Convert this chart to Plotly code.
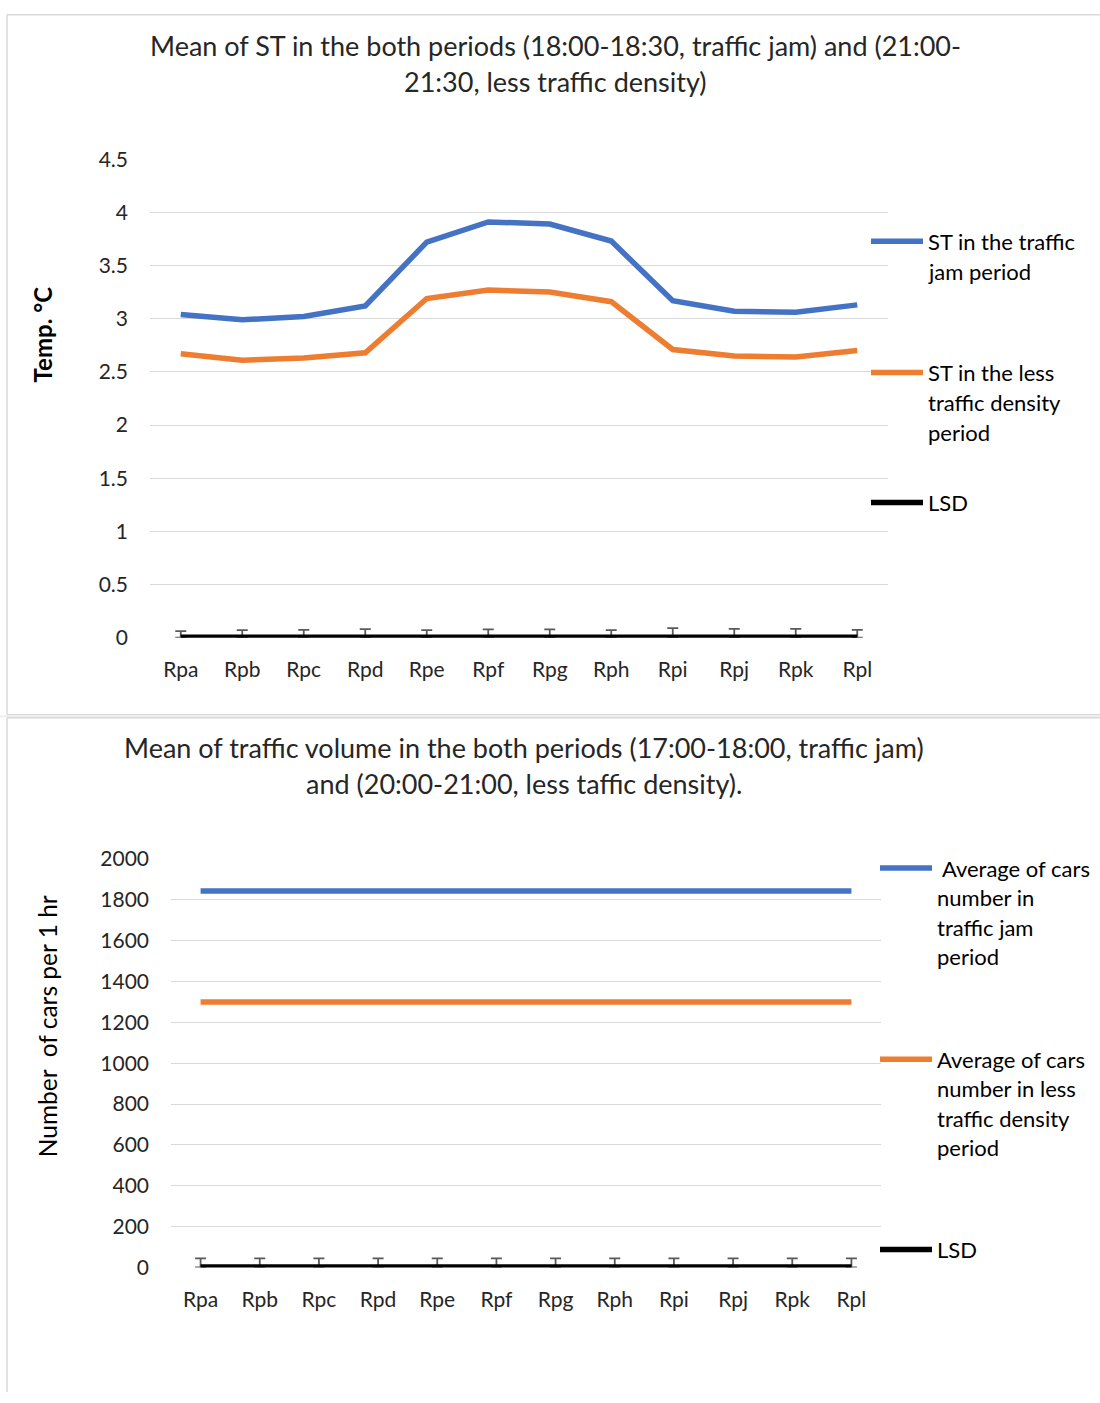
import plotly.graph_objects as go

# ---------------- data ----------------
sites = ["Rpa", "Rpb", "Rpc", "Rpd", "Rpe", "Rpf", "Rpg", "Rph", "Rpi", "Rpj", "Rpk", "Rpl"]

st_jam = [3.04, 2.99, 3.02, 3.12, 3.72, 3.91, 3.89, 3.73, 3.17, 3.07, 3.06, 3.13]
st_less = [2.67, 2.61, 2.63, 2.68, 3.19, 3.27, 3.25, 3.16, 2.71, 2.65, 2.64, 2.70]
st_lsd = [0, 0, 0, 0, 0, 0, 0, 0, 0, 0, 0, 0]
st_lsd_err = [0.062, 0.072, 0.074, 0.081, 0.072, 0.078, 0.078, 0.072, 0.09, 0.084, 0.084, 0.074]

cars_jam = [1843] * 12
cars_less = [1300] * 12
cars_lsd = [0] * 12
cars_lsd_err = [45] * 12

st_ticks = [0, 0.5, 1, 1.5, 2, 2.5, 3, 3.5, 4, 4.5]
st_ticklabels = ["0", "0.5", "1", "1.5", "2", "2.5", "3", "3.5", "4", "4.5"]
car_ticks = [0, 200, 400, 600, 800, 1000, 1200, 1400, 1600, 1800, 2000]

title1 = ["Mean of ST in the both periods (18:00-18:30, traffic jam) and (21:00-",
          "21:30, less traffic density)"]
title2 = ["Mean of traffic volume in the both periods (17:00-18:00, traffic jam)",
          "and (20:00-21:00, less taffic density)."]
legend1 = [["ST in the traffic", "jam period"],
           ["ST in the less", "traffic density", "period"],
           ["LSD"]]
legend2 = [[" Average of cars", "number in", "traffic jam", "period"],
           ["Average of cars", "number in less", "traffic density", "period"],
           ["LSD"]]

BLUE = "#4472C4"
ORANGE = "#ED7D31"
BLACK = "#000000"
GRID = "#D9D9D9"
FONT = "Lato"
TXT = "#262626"

W = 1100
H = 1403
OFF = 14       # vertical offset observed in the rendered picture
SCALE = 0.981  # vertical scale observed in the rendered picture


def px(x):
    return x / W


def py(y):
    actual = max((y - OFF) / SCALE, 0.75)
    return 1 - actual / H


fig = go.Figure()

# ---------------- top chart ----------------
for vals, col in [(st_jam, BLUE), (st_less, ORANGE)]:
    fig.add_trace(go.Scatter(x=sites, y=vals, mode="lines", line=dict(color=col, width=5.5),
                             xaxis="x", yaxis="y", showlegend=False, cliponaxis=False))
fig.add_trace(go.Scatter(x=sites, y=st_lsd, mode="lines", line=dict(color=BLACK, width=6.5),
                         error_y=dict(type="data", symmetric=False, array=st_lsd_err,
                                      arrayminus=[0] * 12, color="#595959", thickness=1.8, width=5.5),
                         xaxis="x", yaxis="y", showlegend=False, cliponaxis=False))

# ---------------- bottom chart ----------------
for vals, col in [(cars_jam, BLUE), (cars_less, ORANGE)]:
    fig.add_trace(go.Scatter(x=sites, y=vals, mode="lines", line=dict(color=col, width=5.5),
                             xaxis="x2", yaxis="y2", showlegend=False, cliponaxis=False))
fig.add_trace(go.Scatter(x=sites, y=cars_lsd, mode="lines", line=dict(color=BLACK, width=6.5),
                         error_y=dict(type="data", symmetric=False, array=cars_lsd_err,
                                      arrayminus=[0] * 12, color="#595959", thickness=1.8, width=5.5),
                         xaxis="x2", yaxis="y2", showlegend=False, cliponaxis=False))

axfont = dict(family=FONT, size=21, color=TXT)

fig.update_layout(
    width=W, height=H, autosize=False,
    margin=dict(l=0, r=0, t=0, b=0),
    paper_bgcolor="white", plot_bgcolor="white",
    font=dict(family=FONT, color=TXT),
    xaxis=dict(domain=[px(150), px(888)], anchor="y", range=[-0.5, 11.5],
               showgrid=False, showline=False, zeroline=False, ticks="",
               tickfont=axfont, ticklabelstandoff=17),
    yaxis=dict(domain=[py(637), py(159)], anchor="x", range=[0, 4.5],
               tickvals=st_ticks, ticktext=st_ticklabels,
               showgrid=True, gridcolor=GRID, gridwidth=1.3, zeroline=False, showline=False,
               ticks="", tickfont=axfont, ticklabelstandoff=21),
    xaxis2=dict(domain=[px(171), px(881)], anchor="y2", range=[-0.5, 11.5],
                showgrid=False, showline=False, zeroline=False, ticks="",
                tickfont=axfont, ticklabelstandoff=17),
    yaxis2=dict(domain=[py(1266), py(858)], anchor="x2", range=[0, 2000],
                tickvals=car_ticks,
                showgrid=True, gridcolor=GRID, gridwidth=1.3, zeroline=False, showline=False,
                ticks="", tickfont=axfont, ticklabelstandoff=21),
)

annotations = []
shapes = []

# titles
for i, t in enumerate(title1):
    annotations.append(dict(text=t, x=px(555), y=py(45 + 36 * i), xref="paper", yref="paper",
                            xanchor="center", yanchor="middle", showarrow=False,
                            font=dict(family=FONT, size=27, color=TXT)))
for i, t in enumerate(title2):
    annotations.append(dict(text=t, x=px(524), y=py(747 + 36 * i), xref="paper", yref="paper",
                            xanchor="center", yanchor="middle", showarrow=False,
                            font=dict(family=FONT, size=27, color=TXT)))

# axis titles
annotations.append(dict(text="<b>Temp. °C</b>", x=px(42), y=py(334), xref="paper", yref="paper",
                        textangle=-90, showarrow=False, xanchor="center", yanchor="middle",
                        font=dict(family=FONT, size=24, color="#000000")))
annotations.append(dict(text="Number  of cars per 1 hr", x=px(47), y=py(1025), xref="paper", yref="paper",
                        textangle=-90, showarrow=False, xanchor="center", yanchor="middle",
                        font=dict(family=FONT, size=24.5, color="#000000")))


# legends (manual, Excel-like)
def add_legend(items, colors, ys, x0, x1, xt, lh):
    for lines, col, y0 in zip(items, colors, ys):
        shapes.append(dict(type="line", xref="paper", yref="paper", x0=px(x0), x1=px(x1),
                           y0=py(y0), y1=py(y0), line=dict(color=col, width=5.5)))
        for j, ln in enumerate(lines):
            annotations.append(dict(text=ln, x=px(xt), y=py(y0 + lh * j), xref="paper", yref="paper",
                                    xanchor="left", yanchor="middle", showarrow=False,
                                    font=dict(family=FONT, size=22, color="#000000")))


add_legend(legend1, [BLUE, ORANGE, BLACK], [241, 372, 502], 871, 923, 926, 30)
add_legend(legend2, [BLUE, ORANGE, BLACK], [867, 1058, 1248], 880, 932, 935, 29.5)

# chart frames
frame = dict(color=GRID, width=1.5)
shapes += [
    dict(type="line", xref="paper", yref="paper", x0=px(7), x1=px(1100), y0=py(7), y1=py(7), line=frame),
    dict(type="line", xref="paper", yref="paper", x0=px(7), x1=px(7), y0=py(7), y1=py(714), line=frame),
    dict(type="line", xref="paper", yref="paper", x0=px(7), x1=px(1100), y0=py(714), y1=py(714), line=frame),
    dict(type="line", xref="paper", yref="paper", x0=px(0), x1=px(1100), y0=py(715.5), y1=py(715.5),
         line=dict(color="#EEEEEE", width=2)),
    dict(type="line", xref="paper", yref="paper", x0=px(7), x1=px(1100), y0=py(717), y1=py(717), line=frame),
    dict(type="line", xref="paper", yref="paper", x0=px(7), x1=px(7), y0=py(717), y1=0, line=frame),
]

fig.update_layout(annotations=annotations, shapes=shapes)

fig.write_html("out.html", post_script="document.body.style.margin='0px';",
               config={"displayModeBar": False})
